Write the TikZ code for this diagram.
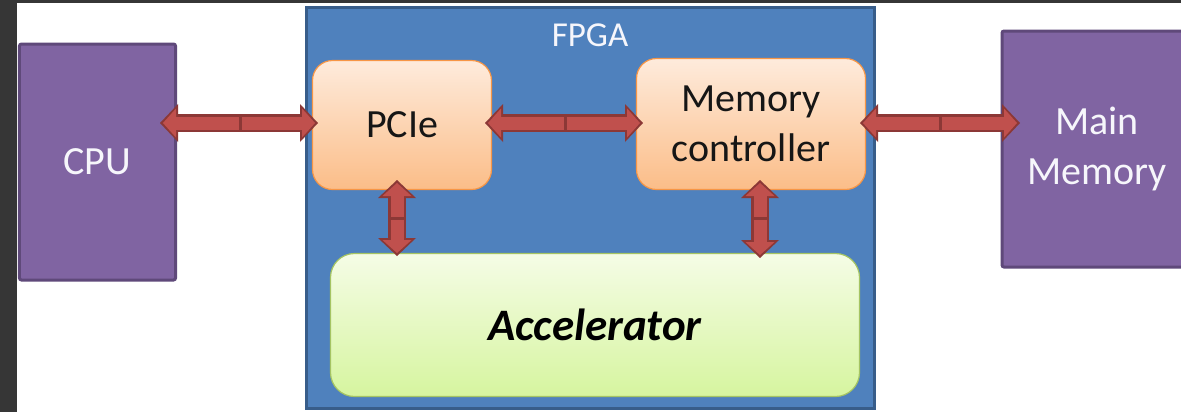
\documentclass[tikz,border=0pt]{standalone}
\usepackage{fontspec}
\setmainfont{Carlito}
\usetikzlibrary{arrows.meta,positioning}
\definecolor{frame}{HTML}{363636}
\definecolor{plum}{HTML}{8064A2}
\definecolor{plumln}{HTML}{5F497A}
\definecolor{board}{HTML}{4F81BD}
\definecolor{boardln}{HTML}{385D8A}
\definecolor{peachtop}{HTML}{FEEBDC}
\definecolor{peachbot}{HTML}{FBBD88}
\definecolor{peachln}{HTML}{F79646}
\definecolor{limetop}{HTML}{F5FCE6}
\definecolor{limebot}{HTML}{D6F59F}
\definecolor{limeln}{HTML}{A5C463}
\definecolor{brick}{HTML}{C0504D}
\definecolor{brickln}{HTML}{8C3836}
\definecolor{snow}{HTML}{F6F6FB}
\definecolor{ink}{HTML}{161616}
\tikzset{
  every node/.style={font=\fontsize{40bp}{50bp}\selectfont,inner sep=0pt,outer sep=0pt},
  chip/.style={draw=plumln,line width=3bp,fill=plum,rounded corners=2bp,
               text=snow,align=center},
  fpga/.style={draw=boardln,line width=3bp,fill=board},
  unit/.style={draw=peachln,line width=1.2bp,rounded corners=20bp,
               top color=peachtop,bottom color=peachbot,text=ink,align=center},
  core/.style={draw=limeln,line width=1.2bp,rounded corners=24bp,
               top color=limetop,bottom color=limebot,text=black,
               font=\fontsize{45bp}{50bp}\selectfont\bfseries\itshape},
  boardcap/.style={font=\fontsize{35bp}{40bp}\selectfont,text=snow},
  ar/.style={draw=brick,line width=13bp,shorten <=1.5bp,shorten >=3bp,
             -{Triangle[length=13bp,width=29bp,line width=0pt]},
             preaction={draw=brickln,line width=18bp,shorten <=0pt,shorten >=0pt,
                        -{Triangle[length=18bp,width=38bp,line width=0pt]}}},
}

\begin{document}
\begin{tikzpicture}[x=1bp,y=-1bp]
\useasboundingbox (0,0) rectangle (1181,412);
\fill[white] (0,0) rectangle (1181,412);
\fill[frame] (0,0) rectangle (17,412);
\fill[frame] (0,0) rectangle (1181,3);

% board and its blocks
\node[fpga,minimum width=568bp,minimum height=401bp] (board) at (590.5,207.5) {};
\node[boardcap] (boardlab) at (590,35) {FPGA};
\node[unit,minimum width=179bp,minimum height=129bp] (pcie) at (402,125) {PCIe};
\node[unit,minimum width=229bp,minimum height=131bp] (memctl) at (751,124) {Memory\\controller};
\node[core,minimum width=529bp,minimum height=143bp] (accel) at (595,325) {Accelerator};

% outside parts
\node[chip,minimum width=156bp,minimum height=236bp] (cpu) at (97.5,162) {CPU};
\node[chip,minimum width=190bp,minimum height=236bp] (mainmem) at (1097,149) {Main\\Memory};

% links, each one two halves meeting in the middle
\coordinate (s1) at (240,123);
\coordinate (s2) at (565,123);
\coordinate (s3) at (940,123);
\coordinate (s4) at (397,218);
\coordinate (s5) at (760,218);
\draw[ar] (s1) -- ([xshift=-15.5bp]cpu.east |- s1);
\draw[ar] (s1) -- ([xshift=5.5bp]pcie.west |- s1);
\draw[ar] (s2) -- ([xshift=-6.5bp]pcie.east |- s2);
\draw[ar] (s2) -- ([xshift=6.5bp]memctl.west |- s2);
\draw[ar] (s3) -- ([xshift=-5.5bp]memctl.east |- s3);
\draw[ar] (s3) -- ([xshift=18bp]mainmem.west |- s3);
\draw[ar] (s4) -- ([yshift=9.5bp]s4 |- pcie.south);
\draw[ar] (s4) -- ([yshift=-2.5bp]s4 |- accel.north);
\draw[ar] (s5) -- ([yshift=9.5bp]s5 |- memctl.south);
\draw[ar] (s5) -- ([yshift=-4.5bp]s5 |- accel.north);
\end{tikzpicture}
\end{document}
